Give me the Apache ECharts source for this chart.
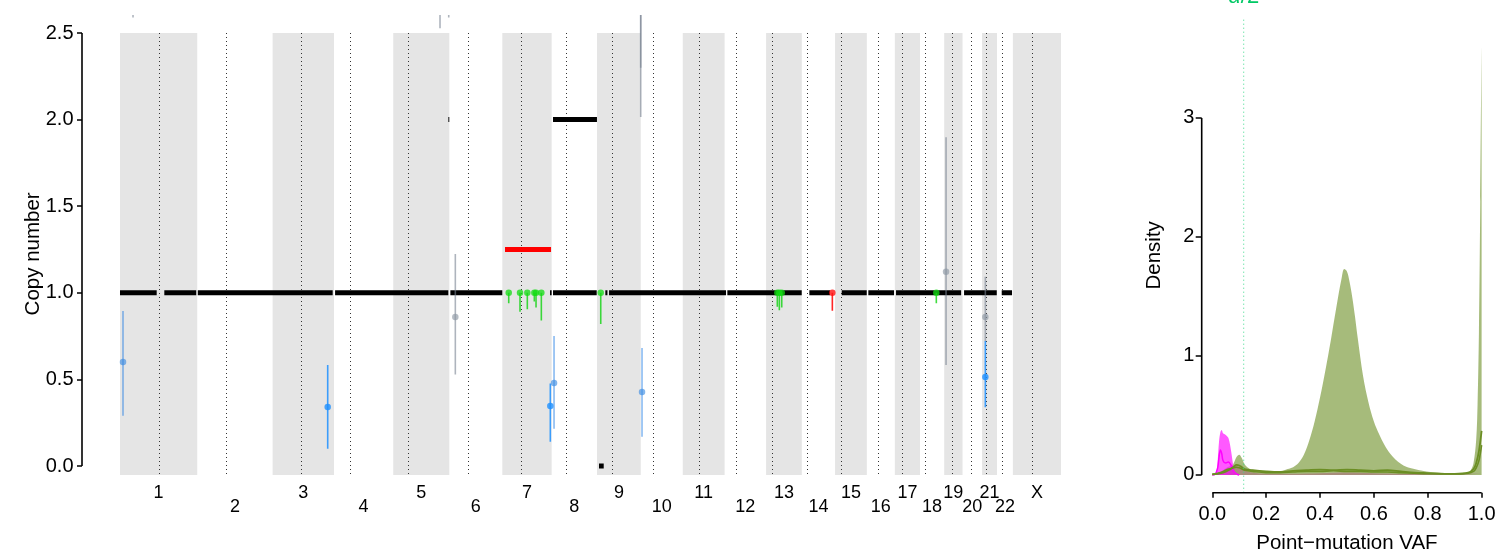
<!DOCTYPE html>
<html><head><meta charset="utf-8">
<script src="https://cdn.jsdelivr.net/npm/echarts@6/dist/echarts.min.js"></script>
<style>html,body{margin:0;padding:0;background:#fff}#c{width:1496px;height:551px}</style>
</head><body><div id="c"></div>
<script>
// ---------- genome layout ----------
const chrNames = ['1','2','3','4','5','6','7','8','9','10','11','12','13','14','15','16','17','18','19','20','21','22','X'];
const chrLenMb = [249.25,243.20,198.02,191.15,180.92,171.12,159.14,146.36,141.21,135.53,135.01,133.85,115.17,107.35,102.53,90.35,81.20,78.08,59.13,63.03,48.13,51.30,155.27];
const centromereMb = [125.0,93.3,91.0,50.4,48.4,61.0,59.9,45.6,49.0,40.2,53.7,35.8,17.9,17.6,19.0,36.6,24.0,17.2,26.5,27.5,13.2,14.7,60.6];
const cnTicks = [0,0.5,1,1.5,2,2.5];

// ---------- clonal copy-number segments (genome-wide Mb) ----------
const cnSegStart = [0,143,251,694,1066,1387.5,1397.2,1397.2,1059.5,1545.6,1566,1578,1959.7,2224.3,2328.8,2414.6,2504,2723.5,2845];
const cnSegEnd   = [118.4,246,686.3,1059.4,1233.6,1392.8,1538.2,1539,1062.5,1560.8,1572.8,1955.5,2199.7,2291,2409.5,2497.6,2714,2829,2878.3];
const cnSegValue = [1,1,1,1,1,1,1,2,2,0,1,1,1,1,1,1,1,1,1];
// subclonal segment
const subSegStart = [1242.3];
const subSegEnd   = [1390.8];
const subSegValue = [1.25];

// ---------- mutation clusters: position (Mb), value, CI ----------
const blueSolidPos = [670.2,1388.5,2792.2];
const blueSolidVal = [0.341,0.346,0.514];
const blueSolidLo  = [0.10,0.14,0.339];
const blueSolidHi  = [0.583,0.477,0.722];
const blueFadedPos = [9.7,1400.5,1684.4];
const blueFadedVal = [0.60,0.479,0.427];
const blueFadedLo  = [0.29,0.215,0.169];
const blueFadedHi  = [0.895,0.75,0.681];
const grayPos = [1082,2665.4,2792.2,1680.2,1680.2,42,1032.6,1060.7];
const grayVal = [0.86,1.122,0.86,3.0,3.0,2.9,2.9,2.9];
const grayLo  = [0.529,0.583,0.72,2.015,2.30,2.59,2.527,2.59];
const grayHi  = [1.224,1.898,1.093,3.5,3.5,3.2,3.2,3.2];
const greenPos = [1254.3,1290.7,1314.3,1336.9,1342.4,1359.5,1551.2,2121,2127.5,2135.2,2634];
const greenVal = [1,1,1,1,1,1,1,1,1,1,1];
const greenLo  = [0.94,0.89,0.905,0.95,0.915,0.84,0.82,0.92,0.90,0.915,0.94];
const redPos = [2298.5];
const redVal = [1];
const redLo  = [0.897];

// ---------- VAF densities ----------
const vafTicks = [0,0.2,0.4,0.6,0.8,1.0];
const densTicks = [0,1,2,3];
const alphaHalf = 0.1166;
const mainX = [0,0.02,0.04,0.06,0.07,0.08,0.09,0.10,0.11,0.12,0.14,0.16,0.18,0.20,0.22,0.24,0.26,0.28,0.30,0.32,0.34,0.36,0.38,0.40,0.42,0.44,0.46,0.48,0.49,0.50,0.51,0.52,0.53,0.54,0.56,0.58,0.60,0.62,0.64,0.66,0.68,0.70,0.72,0.75,0.78,0.81,0.84,0.87,0.90,0.93,0.95,0.96,0.97,0.98,0.985,0.99,0.995,1.0];
const mainY = [0.01,0.01,0.02,0.04,0.06,0.10,0.15,0.17,0.14,0.09,0.05,0.04,0.035,0.03,0.03,0.03,0.035,0.05,0.065,0.10,0.17,0.29,0.45,0.65,0.88,1.13,1.40,1.65,1.73,1.71,1.62,1.49,1.33,1.15,0.83,0.61,0.45,0.34,0.25,0.18,0.13,0.095,0.07,0.05,0.035,0.025,0.02,0.015,0.012,0.012,0.02,0.04,0.10,0.30,0.60,1.20,2.30,3.60];
const lineX = [0,0.02,0.04,0.06,0.08,0.09,0.10,0.11,0.12,0.15,0.20,0.25,0.30,0.35,0.40,0.45,0.50,0.55,0.60,0.65,0.70,0.75,0.80,0.85,0.90,0.95,0.97,0.98,0.99,1.0];
const lineAY = [0.005,0.01,0.02,0.04,0.07,0.085,0.08,0.065,0.05,0.04,0.03,0.025,0.035,0.04,0.045,0.04,0.045,0.04,0.035,0.04,0.03,0.02,0.015,0.01,0.01,0.02,0.05,0.10,0.20,0.37];
const lineBY = [0.005,0.015,0.03,0.05,0.06,0.065,0.06,0.05,0.04,0.03,0.02,0.02,0.025,0.03,0.03,0.035,0.03,0.03,0.025,0.025,0.02,0.015,0.01,0.01,0.01,0.015,0.03,0.06,0.12,0.25];
const magFillX = [0,0.01,0.015,0.02,0.025,0.03,0.035,0.04,0.05,0.06,0.07,0.075,0.08,0.085,0.09,0.1];
const magFillY = [0,0,0.02,0.12,0.28,0.36,0.378,0.35,0.336,0.31,0.20,0.12,0.05,0.01,0,0];
const magLineX = [0,0.01,0.02,0.025,0.03,0.035,0.04,0.05,0.06,0.07,0.08,0.09,0.1];
const magLineY = [0,0.005,0.06,0.15,0.21,0.18,0.12,0.10,0.11,0.08,0.03,0.01,0];
const rosyX = [0,0.02,0.04,0.06,0.08,0.10,0.12,0.15,0.2,0.3,0.4,0.5,0.6,0.7,0.8,0.9,1.0];
const rosyY = [0,0.01,0.04,0.07,0.08,0.07,0.04,0.02,0.01,0.01,0.015,0.02,0.015,0.01,0.01,0.01,0.01];

// ---------- derived ----------
const chrStart = []; let acc = 0;
chrLenMb.forEach(l => { chrStart.push(acc); acc += l; });
const genomeLen = acc;
const chrCenter = chrStart.map((s,i) => s + chrLenMb[i]/2);
const cenPos = chrStart.map((s,i) => s + centromereMb[i]);
const X_PAD = 122.6;
const xMin = -X_PAD, xMax = genomeLen + X_PAD;
const yMin = -0.154, yMax = 2.604;
const BAND_LO = -0.052, BAND_HI = 2.5;
const vMin = -0.0393, vMax = 1.0393, dMin = -0.149, dMax = 3.84;
const FONT = "'Liberation Sans', Arial, Helvetica, sans-serif";

const bandData = chrStart.map((s,i)=>[s, s+chrLenMb[i]]).filter((d,i)=>i%2===0);
const pair = (xs, ys) => xs.map((x,i)=>[x, ys[i]]);
function chrLabel(v){ let bi=0,bd=1e9; chrCenter.forEach((c,i)=>{const d=Math.abs(c-v); if(d<bd){bd=d;bi=i;}}); return chrNames[bi]; }

function segSeries(st, en, val, color, z){
  return {type:'custom', xAxisIndex:0, yAxisIndex:0, z, silent:true, clip:true,
    data: st.map((s,i)=>[s, en[i], val[i]]),
    renderItem:(p, api)=>{
      const a = api.coord([api.value(0), api.value(2)]);
      const b = api.coord([api.value(1), api.value(2)]);
      return {type:'line', shape:{x1:a[0],y1:a[1],x2:b[0],y2:b[1]}, style:{stroke:color, lineWidth:5, lineCap:'butt'}};
    }};
}
function errSeries(pos, lo, hi, color, z){
  return {type:'custom', xAxisIndex:0, yAxisIndex:0, z, silent:true, clip:true,
    data: pos.map((p,i)=>[p, lo[i], hi[i]]),
    renderItem:(p, api)=>{
      const a = api.coord([api.value(0), api.value(1)]);
      const b = api.coord([api.value(0), api.value(2)]);
      return {type:'line', shape:{x1:a[0],y1:a[1],x2:b[0],y2:b[1]}, style:{stroke:color, lineWidth:1.6}};
    }};
}
function ptSeries(pos, val, color, z){
  return {type:'scatter', xAxisIndex:0, yAxisIndex:0, z, silent:true, clip:true,
    symbolSize:6.5, itemStyle:{color}, data: pair(pos, val)};
}
function densSeries(xs, ys, line, fill, width, z){
  const s = {type:'line', xAxisIndex:1, yAxisIndex:1, z, silent:true, symbol:'none',
    smooth:0.35, data: pair(xs, ys),
    lineStyle: line ? {color:line, width} : {width:0, opacity:0}};
  if (fill) s.areaStyle = {color: fill, opacity:1};
  return s;
}

const chart = echarts.init(document.getElementById('c'), null, {renderer:'canvas'});
const option = {
  animation:false,
  backgroundColor:'#fff',
  grid:[
    {left:82, right:397, top:15, bottom:58.3, outerBoundsMode:'none', containLabel:false},
    {left:1201.7, right:3.8, top:18, bottom:58.3, outerBoundsMode:'none', containLabel:false}
  ],
  xAxis:[
    {type:'value', gridIndex:0, min:xMin, max:xMax, position:'bottom',
      axisLine:{show:false, onZero:false}, axisTick:{show:false}, splitLine:{show:false},
      axisLabel:{customValues: chrCenter.filter((c,i)=>i%2===0), formatter:chrLabel,
        margin:-8.7, fontSize:18, color:'#000', fontFamily:FONT}},
    {type:'value', gridIndex:1, min:vMin, max:vMax, position:'bottom',
      axisLine:{show:false, onZero:false}, splitLine:{show:false},
      axisTick:{show:true, length:5, customValues:vafTicks, lineStyle:{color:'#000', width:1.5}},
      axisLabel:{customValues:vafTicks, formatter:v=>v.toFixed(1), margin:12, fontSize:20, color:'#000', fontFamily:FONT},
      name:'Point\u2212mutation VAF', nameLocation:'middle', nameGap:40, nameMoveOverlap:false,
      nameTextStyle:{fontSize:20.5, color:'#000', fontFamily:FONT}},
    {type:'value', gridIndex:0, min:xMin, max:xMax, position:'bottom',
      axisLine:{show:false, onZero:false}, axisTick:{show:false}, splitLine:{show:false},
      axisLabel:{customValues: chrCenter.filter((c,i)=>i%2===1), formatter:chrLabel,
        margin:5.6, fontSize:18, color:'#000', fontFamily:FONT}}
  ],
  yAxis:[
    {type:'value', gridIndex:0, min:yMin, max:yMax, position:'left',
      axisLine:{show:false, onZero:false}, splitLine:{show:false},
      axisTick:{show:true, length:5, customValues:cnTicks, lineStyle:{color:'#000', width:1.5}},
      axisLabel:{customValues:cnTicks, formatter:v=>v.toFixed(1), margin:8.5, fontSize:20, color:'#000', fontFamily:FONT},
      name:'Copy number', nameLocation:'middle', nameGap:38, nameMoveOverlap:false,
      nameTextStyle:{fontSize:20.5, color:'#000', fontFamily:FONT}},
    {type:'value', gridIndex:1, min:dMin, max:dMax, position:'left',
      axisLine:{show:false, onZero:false}, splitLine:{show:false},
      axisTick:{show:true, length:6, customValues:densTicks, lineStyle:{color:'#000', width:1.5}},
      axisLabel:{customValues:densTicks, formatter:v=>String(v), margin:7.4, fontSize:20, color:'#000', fontFamily:FONT},
      name:'Density', nameLocation:'middle', nameGap:37, nameMoveOverlap:false,
      nameTextStyle:{fontSize:20.5, color:'#000', fontFamily:FONT}}
  ],
  series:[
    {type:'custom', xAxisIndex:0, yAxisIndex:0, z:1, silent:true, data:bandData,
      renderItem:(p, api)=>{
        const a = api.coord([api.value(0), BAND_HI]);
        const b = api.coord([api.value(1), BAND_LO]);
        return {type:'rect', shape:{x:a[0], y:a[1], width:b[0]-a[0], height:b[1]-a[1]}, style:{fill:'#E5E5E5'}};
      }},
    {type:'custom', xAxisIndex:0, yAxisIndex:0, z:2, silent:true, data:cenPos.map(c=>[c]),
      renderItem:(p, api)=>{
        const a = api.coord([api.value(0), BAND_HI]);
        const b = api.coord([api.value(0), BAND_LO]);
        const x = Math.round(a[0]) + 0.5;
        return {type:'line', shape:{x1:x, y1:a[1], x2:x, y2:b[1]}, style:{stroke:'#333', lineWidth:1, lineDash:[1,3]}};
      }},
    segSeries(cnSegStart, cnSegEnd, cnSegValue, '#000', 3),
    segSeries(subSegStart, subSegEnd, subSegValue, '#FF0000', 3),
    errSeries(grayPos, grayLo, grayHi, 'rgba(120,130,145,0.6)', 4),
    errSeries(blueFadedPos, blueFadedLo, blueFadedHi, 'rgba(40,130,230,0.55)', 4),
    errSeries(blueSolidPos, blueSolidLo, blueSolidHi, 'rgba(30,144,255,0.85)', 4),
    errSeries(greenPos, greenLo, greenVal, 'rgba(0,210,0,0.75)', 4),
    errSeries(redPos, redLo, redVal, 'rgba(255,0,0,0.85)', 4),
    ptSeries(grayPos, grayVal, 'rgba(140,150,162,0.8)', 5),
    ptSeries(blueFadedPos, blueFadedVal, 'rgba(60,140,225,0.8)', 5),
    ptSeries(blueSolidPos, blueSolidVal, 'rgba(30,144,255,1)', 5),
    ptSeries(greenPos, greenVal, 'rgba(20,220,20,0.95)', 6),
    ptSeries(redPos, redVal, '#FF1010', 6),
    {type:'line', xAxisIndex:0, yAxisIndex:0, z:10, silent:true, clip:false, symbol:'none',
      data:[[xMin,0],[xMin,2.5]], lineStyle:{color:'#000', width:1.6}},
    densSeries(mainX, mainY, null, 'rgba(107,142,35,0.6)', 0, 3),
    densSeries(rosyX, rosyY, null, 'rgba(170,110,125,0.6)', 0, 3),
    densSeries(magFillX, magFillY, null, 'rgba(255,0,255,0.65)', 0, 3),
    densSeries(magLineX, magLineY, '#FF00FF', null, 1.5, 4),
    densSeries(lineX, lineBY, '#6B8E23', null, 1.6, 4),
    densSeries(lineX, lineAY, '#6B8E23', null, 1.8, 4),
    {type:'line', xAxisIndex:1, yAxisIndex:1, z:5, silent:true, clip:false, symbol:'none',
      data:[[alphaHalf,dMin],[alphaHalf,dMax]], lineStyle:{color:'#3CD98A', width:1, type:[1,3]}},
    {type:'line', xAxisIndex:1, yAxisIndex:1, z:10, silent:true, clip:false, symbol:'none',
      data:[[vMin,0],[vMin,3]], lineStyle:{color:'#000', width:1.6}},
    {type:'line', xAxisIndex:1, yAxisIndex:1, z:10, silent:true, clip:false, symbol:'none',
      data:[[0,dMin],[1,dMin]], lineStyle:{color:'#000', width:1.6}}
  ]
};
chart.setOption(option);
const ax = chart.convertToPixel({xAxisIndex:1, yAxisIndex:1}, [alphaHalf, dMax]);
chart.setOption({graphic:[{type:'text', x:ax[0], y:8, silent:true,
  style:{text:'{i|\u03b1}/2', align:'center', verticalAlign:'bottom', fill:'#00C864', font:'22px '+FONT,
    rich:{i:{fontStyle:'italic', fontSize:22, fill:'#00C864', fontFamily:FONT}}}}]});
</script></body></html>
